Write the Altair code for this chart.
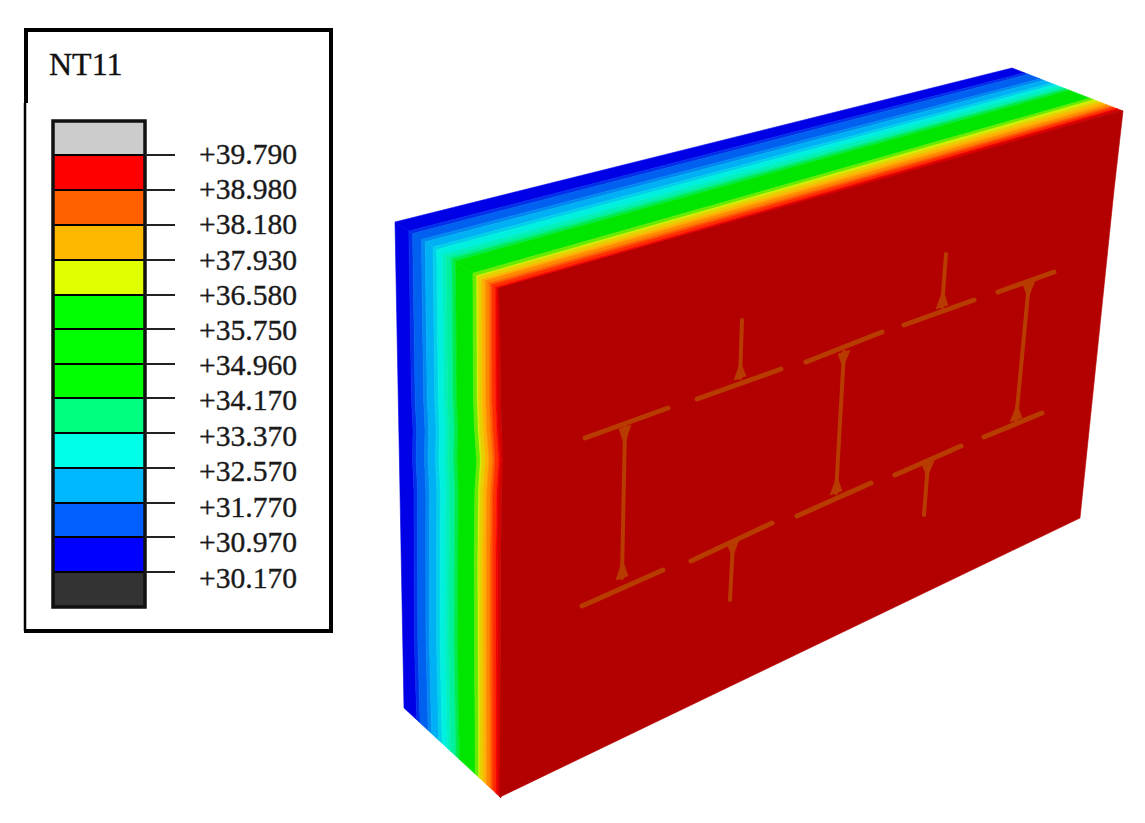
import altair as alt

# ---------- legend values ----------
legend_title = "NT11"
legend_labels = ["+39.790", "+38.980", "+38.180", "+37.930", "+36.580", "+35.750", "+34.960",
                 "+34.170", "+33.370", "+32.570", "+31.770", "+30.970", "+30.170"]
label_y = [155, 190, 225, 261, 296, 331, 366, 401, 437, 472, 508, 543, 579]
swatch_edges = [121, 155, 190, 225, 260, 295, 329, 364, 398, 433, 468, 503, 537, 572, 607]
swatch_colors = ["#cccccc", "#ff0000", "#ff6000", "#ffb800", "#e0ff00", "#00ff00", "#00ff00",
                 "#00ff00", "#00ff80", "#00ffe8", "#00b8ff", "#0060ff", "#0000ff", "#333333"]

# ---------- temperature bands on the box ----------
band_colors = ["#0000e6", "#0060f0", "#00b0f5", "#00f0e0", "#00f0a0", "#00e600",
               "#d0f000", "#ffb000", "#ff6000", "#ff0000", "#b30000"]
side_stops = [0.15, 0.27, 0.38, 0.47, 0.56, 0.76, 0.81, 0.88, 0.94, 0.99]
top_left_stops = [0.15, 0.27, 0.38, 0.48, 0.55, 0.76, 0.81, 0.87, 0.93, 0.98]
top_right_stops = [0.13, 0.27, 0.37, 0.44, 0.50, 0.72, 0.79, 0.87, 0.93, 0.97]

# outer corners of the box, picture coordinates
side_top_back, side_top_front = (395, 222), (500, 291)
side_bot_back, side_bot_front = (404, 708), (500, 797)
top_right_back, top_right_front = (1012, 68), (1123, 111)
front_face = [(499, 288), (1123, 111), (1114, 190), (1080, 518), (500, 797), (501, 700),
              (502, 560), (503, 460), (502, 400)]

# waviness of the side bands: x shift at given picture heights
wave_y = [400, 430, 460, 490, 560, 640]
wave_flat = [0, 0, 0, 0, 0, 0]
wave_cold = [0, 1, 0, 1, 0, -1]
wave_warm = [0, 1, 3, 1, 0, 0]
wave_under = [4, 4, 4, 4, 4, 4]

# steel section centre lines: (x0, y0, x1, y1)
flanges = [(585, 438, 668, 408), (582, 606, 663, 570), (697, 399, 781, 369),
           (806, 362, 882, 332), (797, 516, 871, 483), (904, 325, 974, 300),
           (998, 292, 1054, 272), (984, 437, 1042, 413), (691, 561, 772, 523),
           (895, 475, 961, 446)]
webs = [(625, 427, 622, 578), (742, 320, 740, 378), (844, 352, 836, 493),
        (946, 254, 942, 307), (1029, 283, 1016, 420), (733, 542, 730, 600),
        (928, 463, 924, 515)]
fillets = [(625, 427, 624.4, 445), (622, 578, 622.5, 560), (740, 378, 740.5, 362),
           (844, 352, 843, 368), (836, 493, 837, 476), (942, 307, 943, 290),
           (1029, 283, 1028, 298), (1016, 420, 1017, 404), (733, 542, 732.5, 557),
           (928, 463, 927.3, 477)]


def lerp(a, b, t):
    return (a[0] + (b[0] - a[0]) * t, a[1] + (b[1] - a[1]) * t)


def mix(c1, c2):
    v = [(int(c1[i:i + 2], 16) + int(c2[i:i + 2], 16)) // 2 for i in (1, 3, 5)]
    return "#%02x%02x%02x" % tuple(v)


def side_line(t, wave):
    a, b = lerp(side_top_back, side_top_front, t), lerp(side_bot_back, side_bot_front, t)
    out = [a]
    for y, w in zip(wave_y, wave):
        p = lerp(a, b, (y - a[1]) / (b[1] - a[1]))
        out.append((p[0] + w, p[1]))
    return out + [b]


def top_line(t0, t1):
    return [lerp(side_top_back, side_top_front, t0), lerp(top_right_back, top_right_front, t1)]


def feature(pts, color):
    ring = [list(p) for p in pts] + [list(pts[0])]
    return {"type": "Feature", "properties": {"c": color},
            "geometry": {"type": "Polygon", "coordinates": [ring]}}


features = []
blur = 0.018
n = len(band_colors)
# left side: each band is followed by a narrow blended band
for i, col in enumerate(band_colors):
    lo = 0.0 if i == 0 else side_stops[i - 1] + blur
    hi = 1.0 if i == n - 1 else side_stops[i] - blur
    wave_lo = wave_flat if i == 0 else (wave_cold if i < 6 else wave_warm)
    wave_hi = wave_under if i == n - 1 else (wave_cold if i < 5 else wave_warm)
    features.append(feature(side_line(lo, wave_lo) + side_line(hi, wave_hi)[::-1], col))
    if i < n - 1:
        features.append(feature(side_line(side_stops[i] - blur, wave_hi) +
                                side_line(side_stops[i] + blur, wave_hi)[::-1],
                                mix(col, band_colors[i + 1])))
# top face
for i, col in enumerate(band_colors):
    l0 = 0.0 if i == 0 else top_left_stops[i - 1] + blur
    l1 = 1.0 if i == n - 1 else top_left_stops[i] - blur
    r0 = 0.0 if i == 0 else top_right_stops[i - 1] + blur
    r1 = 1.0 if i == n - 1 else top_right_stops[i] - blur
    features.append(feature(top_line(l0, r0) + top_line(l1, r1)[::-1], col))
    if i < n - 1:
        features.append(feature(top_line(l1, r1) + top_line(l1 + 2 * blur, r1 + 2 * blur)[::-1],
                                mix(col, band_colors[i + 1])))
features.append(feature(front_face, "#b30000"))
# flared roots of the webs
for x0, y0, x1, y1 in fillets:
    features.append(feature([(x0 - 6, y0 + 2), (x0 + 6, y0 - 2), (x1, y1)], "#b83c00"))

polys = alt.Chart(alt.Data(values=features, format=alt.DataFormat(type="json"))).mark_geoshape(
    strokeWidth=0.6
).encode(
    color=alt.Color("properties.c:N", scale=None, legend=None),
    stroke=alt.Stroke("properties.c:N", scale=None, legend=None),
).project(type="identity", scale=1, translate=[-8, -8])

X = alt.X("x:Q", scale=alt.Scale(domain=[8, 1137], nice=False, zero=False), axis=None)
Y = alt.Y("y:Q", scale=alt.Scale(domain=[8, 815], reverse=True, nice=False, zero=False), axis=None)
X2, Y2 = alt.X2("x2:Q"), alt.Y2("y2:Q")


def seg_rows(segs):
    rows = []
    for k, (x0, y0, x1, y1) in enumerate(segs):
        rows += [{"x": x0, "y": y0, "k": k, "o": 0}, {"x": x1, "y": y1, "k": k, "o": 1}]
    return rows


def seg_chart(segs, width, color, cap="round"):
    return alt.Chart(alt.Data(values=seg_rows(segs))).mark_line(
        color=color, strokeWidth=width, strokeCap=cap
    ).encode(x=X, y=Y, detail="k:N", order="o:Q")


flange_lines = seg_chart(flanges, 5, "#b83c00")
web_lines = seg_chart(webs, 4, "#b83c00")

box = alt.Chart(alt.Data(values=[{"x": 25, "x2": 331, "y": 30, "y2": 631}])).mark_rect(
    fill="white"
).encode(x=X, x2=X2, y=Y, y2=Y2)
box_thick = seg_chart([(24, 30, 333, 30), (331, 30, 331, 631), (24, 631, 333, 631), (26, 30, 26, 103)],
                      4, "black", cap="butt")
box_thin = seg_chart([(25, 103, 25, 631)], 2.5, "black", cap="butt")

swatch_rows = [{"x": 53, "x2": 145, "y": swatch_edges[i], "y2": swatch_edges[i + 1], "c": c}
               for i, c in enumerate(swatch_colors)]
swatches = alt.Chart(alt.Data(values=swatch_rows)).mark_rect(stroke="black", strokeWidth=2).encode(
    x=X, x2=X2, y=Y, y2=Y2, color=alt.Color("c:N", scale=None, legend=None)
)
bar_frame = alt.Chart(alt.Data(values=[{"x": 53, "x2": 145, "y": 121, "y2": 607}])).mark_rect(
    fill=None, stroke="#111111", strokeWidth=3.5
).encode(x=X, x2=X2, y=Y, y2=Y2)
ticks = seg_chart([(145, y, 175, y) for y in swatch_edges[1:-1]], 2, "#222222", cap="butt")

labels = alt.Chart(alt.Data(values=[{"x": 199, "y": y, "t": t} for y, t in zip(label_y, legend_labels)])
                   ).mark_text(font="Liberation Serif", fontSize=29.6, align="left", baseline="middle",
                               color="#1a1a1a", stroke="#1a1a1a", strokeWidth=0.35
                               ).encode(x=X, y=Y, text="t:N")
title = alt.Chart(alt.Data(values=[{"x": 49, "y": 65, "t": legend_title}])).mark_text(
    font="Liberation Serif", fontSize=32, align="left", baseline="middle", color="#111111",
    stroke="#111111", strokeWidth=0.35
).encode(x=X, y=Y, text="t:N")

chart = alt.layer(polys, flange_lines, web_lines, box, box_thick, box_thin,
                  swatches, bar_frame, ticks, labels, title
                  ).properties(width=1129, height=807, padding=0, background="white"
                               ).configure_view(stroke=None)
chart.save("out.html", embed_options={"renderer": "svg", "actions": False})
